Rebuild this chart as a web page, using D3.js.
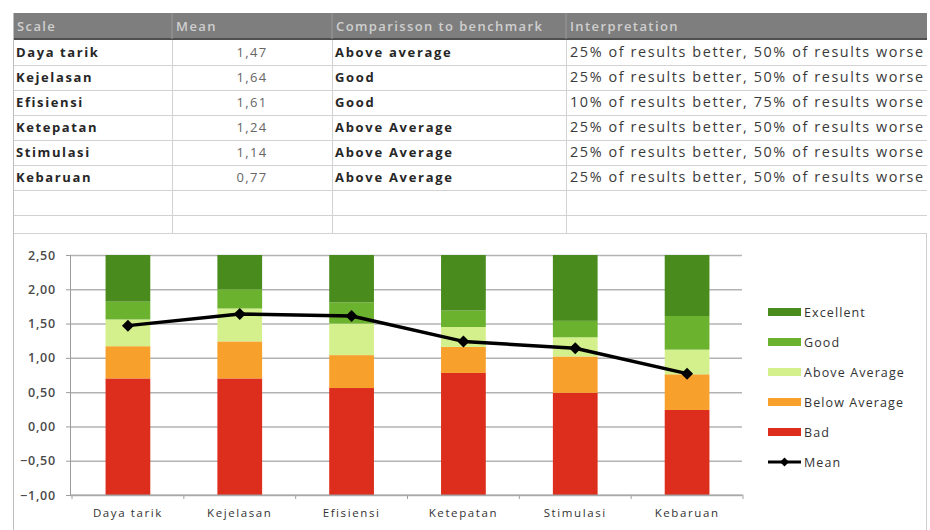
<!DOCTYPE html>
<html>
<head>
<meta charset="utf-8">
<script src="https://cdn.jsdelivr.net/npm/d3@7"></script>
<style>
  html, body { margin: 0; padding: 0; background: #ffffff; }
  svg { display: block; font-family: "Open Sans", "Noto Sans", sans-serif; }
</style>
</head>
<body>
<svg id="chart" width="930" height="530"></svg>
<script>
// ---- Data -------------------------------------------------------------
const scales = ["Daya tarik", "Kejelasan", "Efisiensi", "Ketepatan", "Stimulasi", "Kebaruan"];
const means = [1.47, 1.64, 1.61, 1.24, 1.14, 0.77];
const comparison = ["Above average", "Good", "Good", "Above Average", "Above Average", "Above Average"];
const interpretation = [
  "25% of results better, 50% of results worse",
  "25% of results better, 50% of results worse",
  "10% of results better, 75% of results worse",
  "25% of results better, 50% of results worse",
  "25% of results better, 50% of results worse",
  "25% of results better, 50% of results worse"
];
const tableHeaders = ["Scale", "Mean", "Comparisson to benchmark", "Interpretation"];

// Benchmark band limits per scale (upper edge of each band)
const badTop          = [0.70, 0.70, 0.56, 0.78, 0.49, 0.24];
const belowAverageTop = [1.17, 1.24, 1.04, 1.16, 1.02, 0.76];
const aboveAverageTop = [1.56, 1.72, 1.50, 1.45, 1.30, 1.12];
const goodTop         = [1.82, 2.00, 1.81, 1.69, 1.54, 1.61];
const axisMin = -1.0;
const axisMax = 2.5;
const yTicks = [-1.0, -0.5, 0, 0.5, 1.0, 1.5, 2.0, 2.5];

const seriesNames = ["Excellent", "Good", "Above Average", "Below Average", "Bad"];
const seriesColors = {
  "Excellent": "#4a8b1e",
  "Good": "#6bb22e",
  "Above Average": "#d3f08c",
  "Below Average": "#f8a02c",
  "Bad": "#dc2d1d"
};

// ---- Setup -------------------------------------------------------------
const svg = d3.select("#chart");
const comma = d3.formatLocale({decimal: ",", thousands: ".", grouping: [3], currency: ["", ""]}).format(".2f");

// ---- Table -------------------------------------------------------------
const colEdges = [13, 172, 332, 566, 927];
const headerTop = 13, headerBottom = 39, rowH = 25;
const table = svg.append("g");

table.append("rect")
  .attr("x", colEdges[0]).attr("y", headerTop)
  .attr("width", colEdges[4] - colEdges[0]).attr("height", headerBottom - headerTop)
  .attr("fill", "#7e7e7e");
table.append("line")
  .attr("x1", colEdges[0]).attr("x2", colEdges[4])
  .attr("y1", headerBottom).attr("y2", headerBottom)
  .attr("stroke", "#4f4f4f").attr("stroke-width", 2);

table.selectAll("text.hdr").data(tableHeaders).join("text")
  .attr("class", "hdr")
  .attr("x", (d, i) => colEdges[i] + 4)
  .attr("y", 31)
  .attr("font-size", 13).attr("font-weight", 600)
  .attr("letter-spacing", 1.4)
  .attr("fill", "#cfcfcf")
  .text(d => d);

// header column separators
table.selectAll("line.hsep").data(colEdges.slice(1, 4)).join("line")
  .attr("class", "hsep")
  .attr("x1", d => d).attr("x2", d => d)
  .attr("y1", headerTop).attr("y2", headerBottom)
  .attr("stroke", "#9a9a9a").attr("stroke-width", 1);

// row grid lines (6 data rows + 2 empty rows)
const rowLines = d3.range(1, 9).map(i => headerBottom + 1 + i * rowH);
rowLines[7] = 233;
table.selectAll("line.rsep").data(rowLines).join("line")
  .attr("class", "rsep")
  .attr("x1", colEdges[0]).attr("x2", colEdges[4])
  .attr("y1", d => d + 0.5).attr("y2", d => d + 0.5)
  .attr("stroke", "#d2d2d2").attr("stroke-width", 1);
table.selectAll("line.csep").data(colEdges.slice(1, 4)).join("line")
  .attr("class", "csep")
  .attr("x1", d => d + 0.5).attr("x2", d => d + 0.5)
  .attr("y1", headerBottom + 1).attr("y2", 233)
  .attr("stroke", "#d2d2d2").attr("stroke-width", 1);

const rowY = i => headerBottom + 1 + i * rowH + 17;
const rows = table.selectAll("g.row").data(scales).join("g").attr("class", "row");
rows.append("text")
  .attr("x", colEdges[0] + 3).attr("y", (d, i) => rowY(i))
  .attr("font-size", 13).attr("font-weight", 700).attr("fill", "#262626")
  .attr("letter-spacing", 1.6)
  .text(d => d);
rows.append("text")
  .attr("x", (colEdges[1] + colEdges[2]) / 2).attr("y", (d, i) => rowY(i))
  .attr("text-anchor", "middle")
  .attr("font-size", 13).attr("fill", "#666")
  .attr("letter-spacing", 1.3)
  .text((d, i) => comma(means[i]));
rows.append("text")
  .attr("x", colEdges[2] + 3).attr("y", (d, i) => rowY(i))
  .attr("font-size", 13).attr("font-weight", 700).attr("fill", "#262626")
  .attr("letter-spacing", 1.7)
  .text((d, i) => comparison[i]);
rows.append("text")
  .attr("x", colEdges[3] + 4).attr("y", (d, i) => rowY(i))
  .attr("font-size", 14.4).attr("fill", "#3a3a3a")
  .attr("letter-spacing", 1.6)
  .text((d, i) => interpretation[i]);

// sheet / chart frame lines
svg.append("line").attr("x1", 13.5).attr("x2", 13.5).attr("y1", headerTop).attr("y2", 530)
  .attr("stroke", "#bdbdbd");
svg.append("line").attr("x1", 926.5).attr("x2", 926.5).attr("y1", 233).attr("y2", 530)
  .attr("stroke", "#cfcfcf");

// ---- Chart -------------------------------------------------------------
const plot = {left: 70, right: 742, top: 255, bottom: 495};
const x = d3.scaleBand().domain(scales).range([72, 743]).paddingInner(0.6).paddingOuter(0.3);
const y = d3.scaleLinear().domain([axisMin, axisMax]).range([plot.bottom, plot.top]);

const chart = svg.append("g");

// horizontal gridlines
chart.append("g")
  .attr("transform", `translate(${plot.left},0)`)
  .call(d3.axisLeft(y).tickValues(yTicks).tickSize(-(plot.right - plot.left)).tickFormat(""))
  .call(g => g.select(".domain").remove())
  .call(g => g.selectAll("line").attr("stroke", "#b3b3b3").attr("stroke-width", 1.5));

// stacked benchmark bands
const bands = scales.map((s, i) => ({
  scale: s,
  parts: [
    {name: "Bad", y0: axisMin, y1: badTop[i]},
    {name: "Below Average", y0: badTop[i], y1: belowAverageTop[i]},
    {name: "Above Average", y0: belowAverageTop[i], y1: aboveAverageTop[i]},
    {name: "Good", y0: aboveAverageTop[i], y1: goodTop[i]},
    {name: "Excellent", y0: goodTop[i], y1: axisMax}
  ]
}));
chart.selectAll("g.bar").data(bands).join("g").attr("class", "bar")
  .selectAll("rect").data(d => d.parts.map(p => ({...p, scale: d.scale}))).join("rect")
  .attr("x", d => x(d.scale))
  .attr("width", x.bandwidth())
  .attr("y", d => y(d.y1))
  .attr("height", d => y(d.y0) - y(d.y1))
  .attr("fill", d => seriesColors[d.name]);

// y axis
const yAxis = chart.append("g")
  .attr("transform", `translate(${plot.left},0)`)
  .call(d3.axisLeft(y).tickValues(yTicks).tickSize(4).tickFormat(comma));
yAxis.select(".domain").attr("stroke", "#9c9c9c");
yAxis.selectAll(".tick line").attr("stroke", "#9c9c9c");
yAxis.selectAll("text").attr("font-size", 12.5).attr("font-weight", 600).attr("fill", "#4a4a4a")
  .attr("letter-spacing", 0.8)
  .attr("x", -14).style("font-family", "'Open Sans', sans-serif");

// category axis
const xAxis = chart.append("g")
  .attr("transform", `translate(0,${plot.bottom})`)
  .call(d3.axisBottom(x).tickSize(0).tickPadding(14));
xAxis.select(".domain").attr("stroke", "#a0a0a0").attr("stroke-width", 1.2)
  .attr("d", `M${plot.left},0H${743}`);
xAxis.selectAll("text").attr("font-size", 11.5).attr("fill", "#333")
  .attr("letter-spacing", 1.6)
  .style("font-family", "'Open Sans', sans-serif");
const dividers = scales.slice(1).map(s => x(s) - x.step() * x.paddingInner() / 2);
xAxis.selectAll("line.div").data([72, ...dividers, 743]).join("line")
  .attr("class", "div")
  .attr("x1", d => d).attr("x2", d => d).attr("y1", 0).attr("y2", 4)
  .attr("stroke", "#a0a0a0");

// mean line with diamond markers
const cx = s => x(s) + x.bandwidth() / 2;
chart.append("path")
  .datum(scales)
  .attr("fill", "none").attr("stroke", "#000").attr("stroke-width", 3.5)
  .attr("stroke-linejoin", "round")
  .attr("d", d3.line().x(s => cx(s)).y((s, i) => y(means[i])));
const diamond = d3.symbol(d3.symbolSquare).size(72);
chart.selectAll("path.marker").data(scales).join("path")
  .attr("class", "marker")
  .attr("d", diamond)
  .attr("transform", (s, i) => `translate(${cx(s)},${y(means[i])}) rotate(45)`)
  .attr("fill", "#000");

// ---- Legend ------------------------------------------------------------
const legendItems = [...seriesNames, "Mean"];
const legend = svg.append("g").attr("transform", "translate(768,312)");
const li = legend.selectAll("g").data(legendItems).join("g")
  .attr("transform", (d, i) => `translate(0,${i * 30})`);
li.filter(d => d !== "Mean").append("rect")
  .attr("x", 0).attr("y", -4).attr("width", 33).attr("height", 8)
  .attr("fill", d => seriesColors[d]);
const meanItem = li.filter(d => d === "Mean");
meanItem.append("line").attr("x1", 0).attr("x2", 33).attr("y1", 0).attr("y2", 0)
  .attr("stroke", "#000").attr("stroke-width", 3);
meanItem.append("path").attr("d", d3.symbol(d3.symbolSquare).size(40))
  .attr("transform", "translate(16.5,0) rotate(45)").attr("fill", "#000");
li.append("text")
  .attr("x", 36).attr("y", 4.5)
  .attr("font-size", 12.5).attr("fill", "#333")
  .attr("letter-spacing", 1.1)
  .text(d => d);
</script>
</body>
</html>
